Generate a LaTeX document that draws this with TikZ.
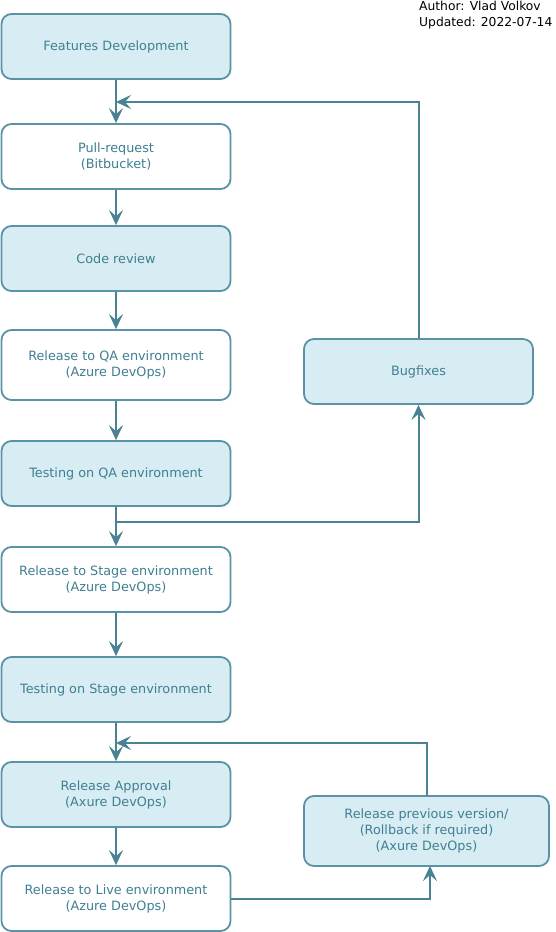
\documentclass[tikz,border=0pt]{standalone}
\usepackage{fontspec}
\setmainfont{DejaVu Sans}
\usetikzlibrary{arrows.meta}
\definecolor{boxline}{HTML}{5A93A6}
\definecolor{boxfill}{HTML}{D7EDF3}
\definecolor{txt}{HTML}{3F7F92}
\definecolor{arrc}{HTML}{4A8294}
\tikzset{
  x=1pt,y=-1pt,
  stage/.style={draw=boxline, line width=1.8pt, rounded corners=10pt, minimum width=229pt, minimum height=65pt, align=center, text=txt, font=\fontsize{12.8}{16}\selectfont, inner sep=0pt},
  blue/.style={stage, fill=boxfill},
  white/.style={stage, fill=white},
  arr/.style={draw=arrc, line width=2pt, -{Stealth[length=15pt,width=14pt,inset=6pt]}},
}
\begin{document}
\begin{tikzpicture}
\useasboundingbox (0,0) rectangle (556,932);
\node[blue]  (b1) at (116,46.5) {Features Development};
\node[white] (b2) at (116,156.5) {Pull-request\\(Bitbucket)};
\node[blue]  (b3) at (116,258.5) {Code review};
\node[white, minimum height=70pt] (b4) at (116,365) {Release to QA environment\\(Azure DevOps)};
\node[blue]  (b5) at (116,473.5) {Testing on QA environment};
\node[white] (b6) at (116,579.5) {Release to Stage environment\\(Azure DevOps)};
\node[blue]  (b7) at (116,689.5) {Testing on Stage environment};
\node[blue]  (b8) at (116,794.5) {Release Approval\\(Axure DevOps)};
\node[white] (b9) at (116,898.5) {Release to Live environment\\(Azure DevOps)};
\node[blue]  (bug) at (418.5,371.5) {Bugfixes};
\node[blue, minimum width=245pt, minimum height=70pt] (rb) at (426.5,831) {Release previous version/\\(Rollback if required)\\(Axure DevOps)};
\node[anchor=north west, inner sep=0pt, align=left, font=\fontsize{12.3}{15.5}\selectfont] (auth) at (419,1) {Author: Vlad Volkov\\Updated: 2022-07-14};
\coordinate (j1) at (116,102);
\coordinate (j2) at (116,522);
\coordinate (j3) at (116,743);
\coordinate (rbin) at (430,866);
\draw[arr] (b1) -- (b2);
\draw[arr] (b2) -- (b3);
\draw[arr] (b3) -- (b4);
\draw[arr] (b4) -- (b5);
\draw[arr] (b5) -- (b6);
\draw[arr] (b6) -- (b7);
\draw[arr] (b7) -- (b8);
\draw[arr] (b8) -- (b9);
\draw[arr] (bug.north) |- (j1);
\draw[arr] (j2) -| (bug.south);
\draw[arr] (rb.north) |- (j3);
\draw[arr] (b9.east) -| (rbin);
\end{tikzpicture}
\end{document}
